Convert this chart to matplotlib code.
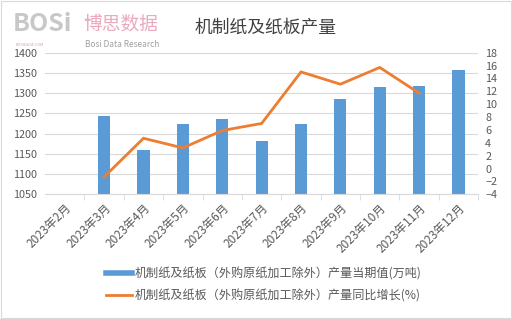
import matplotlib.pyplot as plt
from matplotlib.patches import Rectangle
from matplotlib.lines import Line2D

plt.rcParams['font.family'] = ['Noto Sans CJK SC', 'DejaVu Sans']

months = ['2023年2月', '2023年3月', '2023年4月', '2023年5月', '2023年6月', '2023年7月',
          '2023年8月', '2023年9月', '2023年10月', '2023年11月', '2023年12月']
output = [None, 1244, 1160, 1224, 1236, 1181, 1224, 1285, 1315, 1318, 1356]
growth = [None, -1.3, 4.7, 3.2, 5.9, 7.0, 15.0, 13.1, 15.7, 11.7, None]
left_ticks = [1050, 1100, 1150, 1200, 1250, 1300, 1350, 1400]
right_ticks = [-4, -2, 0, 2, 4, 6, 8, 10, 12, 14, 16, 18]

bar_label = '机制纸及纸板（外购原纸加工除外）产量当期值(万吨)'
line_label = '机制纸及纸板（外购原纸加工除外）产量同比增长(%)'

blue = '#5b9bd5'
orange = '#ed7d31'
txt = '#595959'

fig = plt.figure(figsize=(5.12, 3.19), dpi=100)
ax = fig.add_axes([0.088, 0.391, 0.846, 0.444])
ax2 = ax.twinx()

xs = list(range(len(months)))
bx = [x for x, v in zip(xs, output) if v is not None]
bv = [v for v in output if v is not None]
ax.bar(bx, bv, width=0.31, color=blue, zorder=2)
ax.set_ylim(1050, 1400)
ax.set_yticks(left_ticks)
ax.set_xlim(-0.5, len(months) - 0.5)
ax.grid(axis='y', color='#d9d9d9', linewidth=0.8, zorder=0)
ax.set_axisbelow(True)

lx = [x for x, v in zip(xs, growth) if v is not None]
lv = [v for v in growth if v is not None]
ax2.plot(lx, lv, color=orange, linewidth=2.0, solid_joinstyle='miter')
ax2.set_ylim(-4, 18)
ax2.set_yticks(right_ticks)

for a in (ax, ax2):
    for s in a.spines.values():
        s.set_visible(False)
    a.tick_params(axis='y', length=0, labelsize=7.8, labelcolor=txt)
ax.tick_params(axis='y', pad=6)
ax2.tick_params(axis='y', pad=5)
ax.spines['bottom'].set_visible(True)
ax.spines['bottom'].set_color('#d9d9d9')

ax.set_xticks(xs)
ax.set_xticklabels(months, rotation=45, ha='right', rotation_mode='anchor',
                   fontsize=8.5, color=txt)
ax.tick_params(axis='x', which='major', length=0, pad=5)
ax.set_xticks([x + 0.5 for x in xs], minor=True)
ax.tick_params(axis='x', which='minor', length=4, color='#d9d9d9')

handles = [Line2D([], [], color=blue, linewidth=4), Line2D([], [], color=orange, linewidth=2)]
fig.legend(handles, [bar_label, line_label], loc='center', bbox_to_anchor=(0.515, 0.107),
           frameon=False, fontsize=8.7, labelcolor=txt, handlelength=2.2,
           handletextpad=0.2, labelspacing=0.75)

fig.text(0.518, 0.915, '机制纸及纸板产量', ha='center', va='center', fontsize=12.8, color='#404040')
fig.text(0.025, 0.925, 'BOSi', ha='left', va='center', fontsize=18, fontweight='bold', color='#c8c8c8')
fig.text(0.03, 0.86, 'BOSIDATA.COM', ha='left', va='center', fontsize=2.8, color='#d0a0b0')
fig.text(0.162, 0.925, '博思数据', ha='left', va='center', fontsize=13.5, color='#eaa9bd')
fig.text(0.166, 0.862, 'Bosi Data Research', ha='left', va='center', fontsize=6, color='#a0a0a0')

fig.patches.append(Rectangle((0.001, 0.002), 0.997, 0.995, transform=fig.transFigure,
                             fill=False, edgecolor='#d9d9d9', linewidth=0.8))

fig.savefig('out.png', dpi=100)
